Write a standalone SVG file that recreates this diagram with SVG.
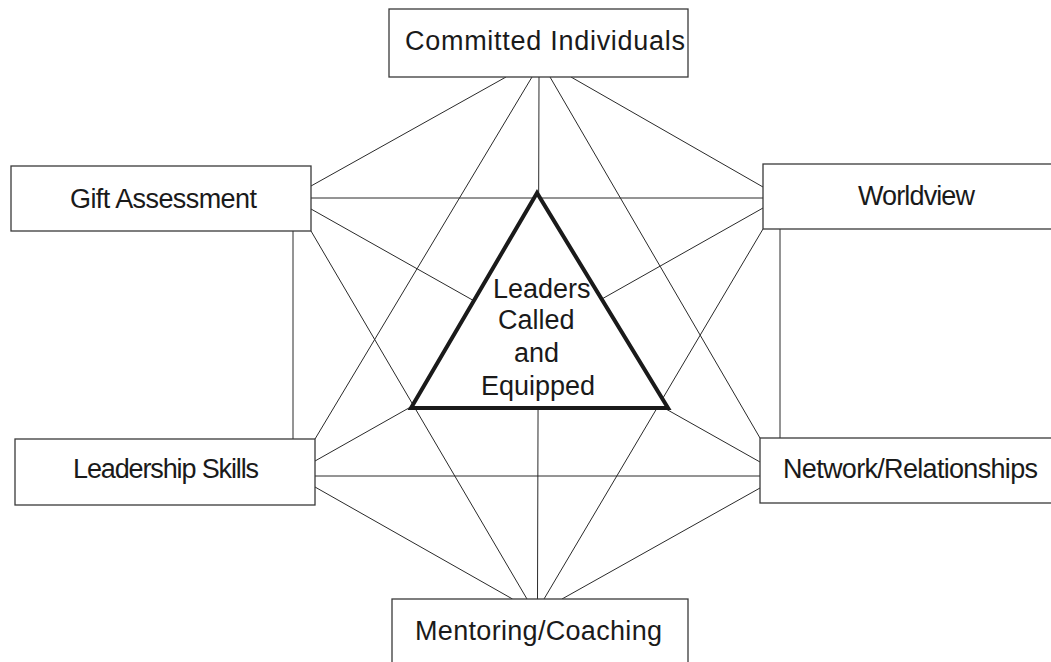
<svg xmlns="http://www.w3.org/2000/svg" width="1051" height="662" viewBox="0 0 1051 662">
<style>
.box{fill:#fff;stroke:#3a3a3a;stroke-width:1.3}
.lbl{font-family:"Liberation Sans",Arial,sans-serif;font-size:27px;fill:#1a1a1a}
.ln{stroke:#2a2a2a;stroke-width:1;fill:none}
.tri{fill:#fff;stroke:#1a1a1a;stroke-width:4;stroke-linejoin:miter}
</style>
<rect width="1051" height="662" fill="#fff"/>
<g id="connectors">
<line class="ln" x1="506" y1="77" x2="311" y2="186"/>
<line class="ln" x1="571" y1="77" x2="763" y2="187"/>
<line class="ln" x1="532" y1="77" x2="315" y2="439"/>
<line class="ln" x1="550" y1="77" x2="760" y2="438"/>
<line class="ln" x1="539" y1="77" x2="537.5" y2="599"/>
<line class="ln" x1="311" y1="198" x2="763" y2="198"/>
<line class="ln" x1="311" y1="209" x2="760" y2="462"/>
<line class="ln" x1="311" y1="231" x2="527" y2="599"/>
<line class="ln" x1="293" y1="231" x2="293" y2="439"/>
<line class="ln" x1="763" y1="208" x2="315" y2="461"/>
<line class="ln" x1="763" y1="229" x2="544" y2="599"/>
<line class="ln" x1="780" y1="229" x2="780" y2="438"/>
<line class="ln" x1="315" y1="476" x2="760" y2="476"/>
<line class="ln" x1="315" y1="487" x2="512.5" y2="599"/>
<line class="ln" x1="760" y1="488" x2="562" y2="599"/>
</g>
<g id="committed">
<rect class="box" x="389" y="9" width="299" height="68"/>
<text class="lbl" x="405" y="50" textLength="280">Committed Individuals</text>
</g>
<g id="gift">
<rect class="box" x="11" y="166" width="300" height="65"/>
<text class="lbl" x="70" y="208" textLength="187">Gift Assessment</text>
</g>
<g id="worldview">
<rect class="box" x="763" y="164" width="300" height="65"/>
<text class="lbl" x="858" y="205" textLength="117">Worldview</text>
</g>
<g id="leadership">
<rect class="box" x="15" y="439" width="300" height="66"/>
<text class="lbl" x="73" y="478" textLength="186">Leadership Skills</text>
</g>
<g id="network">
<rect class="box" x="760" y="438" width="300" height="65"/>
<text class="lbl" x="783" y="478" textLength="255">Network/Relationships</text>
</g>
<g id="mentoring">
<rect class="box" x="392" y="599" width="296" height="80"/>
<text class="lbl" x="415" y="640" textLength="247">Mentoring/Coaching</text>
</g>
<g id="center">
<polygon class="tri" points="537,193 411,408 668,408"/>
<text class="lbl" x="493" y="298">Leaders</text>
<text class="lbl" x="498" y="329">Called</text>
<text class="lbl" x="514" y="362">and</text>
<text class="lbl" x="481" y="395">Equipped</text>
</g>
</svg>
